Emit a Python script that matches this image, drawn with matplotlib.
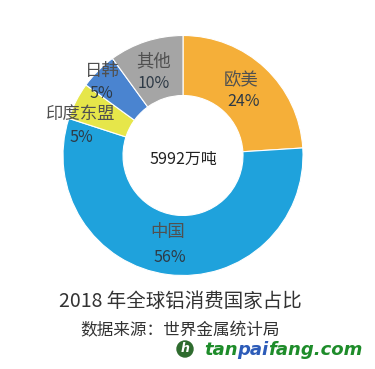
import matplotlib.pyplot as plt
from matplotlib.patches import Circle

plt.rcParams['font.family'] = ['Noto Sans CJK SC', 'DejaVu Sans']

# data
regions = ["欧美", "中国", "印度东盟", "日韩", "其他"]
shares = [24, 56, 5, 5, 10]
pct_labels = ["24%", "56%", "5%", "5%", "10%"]
colors = ["#F5AF39", "#1FA2DC", "#E6E64A", "#4A84D0", "#A5A5A5"]
total_text = "5992万吨"
title = "2018 年全球铝消费国家占比"
source = "数据来源：世界金属统计局"

# figure in pixel coords (y measured from top, flipped below)
W, H = 375, 369
fig = plt.figure(figsize=(W / 100, H / 100), dpi=100)
ax = fig.add_axes([0, 0, 1, 1])

cx, cy, R = 183, H - 155.5, 120
wedges, _ = ax.pie(shares, colors=colors, startangle=90, counterclock=False,
                   center=(cx, cy), radius=R, frame=True,
                   wedgeprops=dict(width=R * 0.5, edgecolor="white", linewidth=0.8))
ax.set_xlim(0, W)
ax.set_ylim(0, H)
ax.set_aspect("equal")
ax.axis("off")

# label positions in px from top-left: (name x, name y, pct x, pct y)
label_pos = [(241, 80, 244, 102), (168, 232, 170, 257), (81, 114, 81, 137),
             (102, 71, 101, 94), (154, 61, 154, 83)]
for name, pct, (nx, ny, px, py) in zip(regions, pct_labels, label_pos):
    ax.text(nx, H - ny, name, ha="center", va="center", fontsize=12.5, color="#505050")
    ax.text(px, H - py, pct, ha="center", va="center", fontsize=11.5, color="#2E3A46")

ax.text(cx, cy - 4, total_text, ha="center", va="center", fontsize=11.5, color="#222222")

ax.text(180, H - 301, title, ha="center", va="center", fontsize=14, color="#333333")
ax.text(180, H - 331, source, ha="center", va="center", fontsize=12, color="#333333")

# watermark
ax.add_patch(Circle((185, H - 349), 8, color="#2E6B2E"))
ax.text(185, H - 349, "h", ha="center", va="center", fontsize=9, color="white",
        fontweight="bold", style="italic", family="DejaVu Sans")
wm = [("tan", "#1E8C2A"), ("pai", "#2C5BB8"), ("fang.com", "#1E8C2A")]
renderer = fig.canvas.get_renderer()
x = 204
for s, c in wm:
    t = ax.text(x, H - 355, s, ha="left", va="baseline", fontsize=13,
                fontweight="bold", style="italic", color=c, family="DejaVu Sans")
    bb = t.get_window_extent(renderer)
    x = x + bb.width * 0.985

fig.savefig("out.png", dpi=100)
